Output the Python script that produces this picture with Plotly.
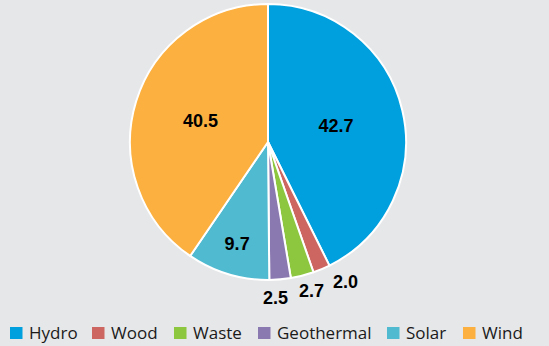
import math
import plotly.graph_objects as go

labels = ["Hydro", "Wood", "Waste", "Geothermal", "Solar", "Wind"]
values = [42.7, 2.0, 2.7, 2.5, 9.7, 40.5]
text_labels = ["42.7", "2.0", "2.7", "2.5", "9.7", "40.5"]
inside = [True, False, False, False, True, True]

colors = ["#00a0de", "#cd6660", "#8dc63f", "#8a78b0", "#4fbad0", "#fbb040"]

W, H = 549, 346
CX, CY, R = 268, 142, 138          # pie centre / radius in pixels
OUT_R = 158                         # radius for outside labels
out_shift = {1: (16, 6), 2: (4, 4), 3: (-6, 1)}   # small nudges (px) for outside labels
legend_x = [10, 92, 174, 258, 387, 463]          # legend entry positions (px)
LEG_Y = 333

lab_font = dict(family="Liberation Sans, Arial", size=18, color="black", weight="bold")

fig = go.Figure(go.Pie(
    labels=labels, values=values,
    text=[t if ins else "" for t, ins in zip(text_labels, inside)],
    textinfo="text", textposition=["inside" if i else "none" for i in inside],
    sort=False, direction="clockwise", rotation=0,
    marker=dict(colors=colors, line=dict(color="white", width=2)),
    textfont=lab_font,
    insidetextorientation="horizontal",
    domain=dict(x=[(CX - R) / W, (CX + R) / W], y=[1 - (CY + R) / H, 1 - (CY - R) / H]),
    hoverinfo="label+value",
    showlegend=False,
))

annotations = []
shapes = []
total = sum(values)
cum = 0.0
for i, v in enumerate(values):
    mid = (cum + v / 2) / total * 2 * math.pi
    cum += v
    if inside[i]:
        continue
    px = CX + OUT_R * math.sin(mid)
    py = CY - OUT_R * math.cos(mid)
    dx, dy = out_shift.get(i, (0, 0))
    annotations.append(dict(x=px / W, y=1 - py / H, xref="paper", yref="paper",
                            text=text_labels[i], showarrow=False, font=lab_font,
                            xanchor="center", yanchor="middle", xshift=dx, yshift=dy))

# legend
for i, (lab, col) in enumerate(zip(labels, colors)):
    bx = legend_x[i]
    shapes.append(dict(type="rect", xref="paper", yref="paper",
                       x0=bx / W, x1=(bx + 12.5) / W,
                       y0=1 - (LEG_Y + 6) / H, y1=1 - (LEG_Y - 6) / H,
                       fillcolor=col, line=dict(width=0)))
    annotations.append(dict(x=(bx + 17) / W, y=1 - (LEG_Y - 1) / H, xref="paper", yref="paper",
                            text=lab, showarrow=False, xanchor="left", yanchor="middle",
                            font=dict(family="Open Sans", size=17, color="#1a1a1a")))

fig.update_layout(
    width=W, height=H,
    margin=dict(l=0, r=0, t=0, b=0),
    paper_bgcolor="#e6e7e8", plot_bgcolor="#e6e7e8",
    showlegend=False,
    annotations=annotations, shapes=shapes,
)
fig.write_html("out.html")
